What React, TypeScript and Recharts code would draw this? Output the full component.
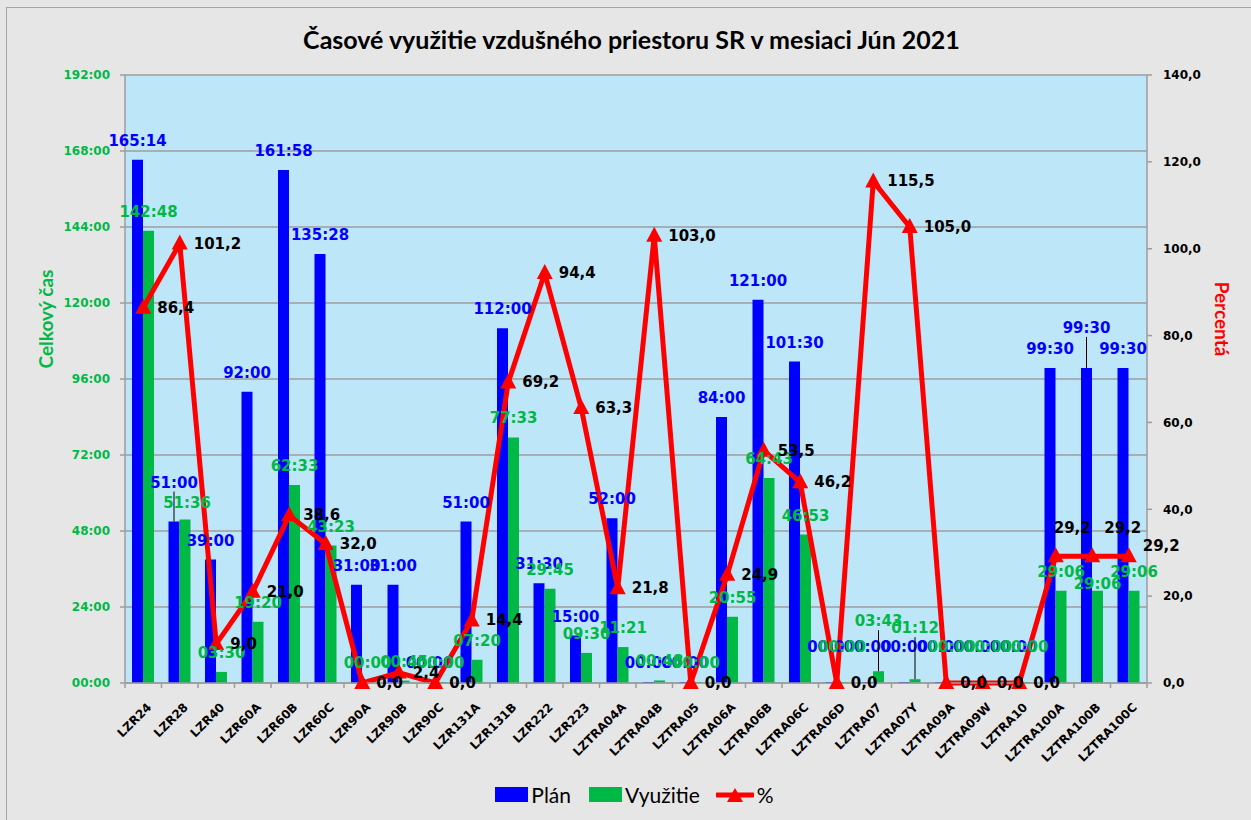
import React from 'react';
import {
  ComposedChart,
  Bar,
  Line,
  XAxis,
  YAxis,
  CartesianGrid,
  LabelList,
} from 'recharts';

const categories = [
  'LZR24', 'LZR28', 'LZR40', 'LZR60A', 'LZR60B', 'LZR60C', 'LZR90A', 'LZR90B', 'LZR90C',
  'LZR131A', 'LZR131B', 'LZR222', 'LZR223', 'LZTRA04A', 'LZTRA04B', 'LZTRA05', 'LZTRA06A',
  'LZTRA06B', 'LZTRA06C', 'LZTRA06D', 'LZTRA07', 'LZTRA07Y', 'LZTRA09A', 'LZTRA09W',
  'LZTRA10', 'LZTRA100A', 'LZTRA100B', 'LZTRA100C',
];

// hh:mm
const planTimes = [
  '165:14', '51:00', '39:00', '92:00', '161:58', '135:28', '31:00', '31:00', '00:00',
  '51:00', '112:00', '31:30', '15:00', '52:00', '00:00', '00:00', '84:00',
  '121:00', '101:30', '00:00', '00:00', '00:00', '00:00', '00:00',
  '00:00', '99:30', '99:30', '99:30',
];

const usedTimes = [
  '142:48', '51:36', '03:30', '19:20', '62:33', '43:23', '00:00', '00:45', '00:00',
  '07:20', '77:33', '29:45', '09:30', '11:21', '00:48', '00:00', '20:55',
  '64:43', '46:53', '00:00', '03:43', '01:12', '00:00', '00:00',
  '00:00', '29:06', '29:06', '29:06',
];

const percent = [
  86.4, 101.2, 9.0, 21.0, 38.6, 32.0, 0.0, 2.4, 0.0,
  14.4, 69.2, 94.4, 63.3, 21.8, 103.0, 0.0, 24.9,
  53.5, 46.2, 0.0, 115.5, 105.0, 0.0, 0.0,
  0.0, 29.2, 29.2, 29.2,
];

const hourTicks = [0, 24, 48, 72, 96, 120, 144, 168, 192];
const pctTicks = [0, 20, 40, 60, 80, 100, 120, 140];

const toHours = (s: string) => {
  const [h, m] = s.split(':').map(Number);
  return h + m / 60;
};

const data = categories.map((name, i) => ({
  name,
  plan: toHours(planTimes[i]),
  planLabel: planTimes[i],
  used: toHours(usedTimes[i]),
  usedLabel: usedTimes[i],
  pct: percent[i],
}));

const W = 1251;
const H = 820;
const LEFT = 125;
const RIGHT = 1147;
const TOP = 75;
const BOTTOM = 683;
const STEP = (RIGHT - LEFT) / categories.length;

const BLUE = '#0000FF';
const GREEN = '#00B846';
const RED = '#FF0000';
const AXIS = '#9d9d9d';
const LABEL_FONT = 'DejaVu Sans, Verdana, sans-serif';
const TEXT_FONT = 'Lato, Calibri, sans-serif';

// labels moved by hand in the original: index -> [dx, dy, leader line 1/0]
const planLabelShift: Record<number, number[]> = {
  1: [0, -20, 1], 19: [0, -16, 0], 20: [0, -16, 0], 21: [0, -16, 0],
  22: [0, -16, 0], 23: [0, -16, 0], 24: [0, -16, 0], 26: [0, -21, 1],
};
const usedLabelShift: Record<number, number[]> = {
  1: [2, 2, 0], 19: [0, -16, 0], 20: [0, -31, 1], 21: [0, -32, 1],
  22: [0, -16, 0], 23: [0, -16, 0], 24: [0, -16, 0], 26: [0, 12, 0],
};
const pctLabelShift: Record<number, number[]> = { 25: [-16, -28], 26: [-2, -28], 27: [0, -10] };

const fmtHour = (v: number) => `${String(v).padStart(2, '0')}:00`;
const fmtPct = (v: number) => v.toFixed(1).replace('.', ',');

const barLabel = (color: string, shift: Record<number, number[]>) => (p: any) => {
  const { x, y, width, value, index } = p;
  if (x == null || y == null) return null;
  const [dx, dy, leader] = shift[index] || [0, 0, 0];
  const cx = x + width / 2 + dx;
  const by = y - 14 + dy;
  return (
    <g key={`bl-${color}-${index}`}>
      {leader ? <line x1={cx} y1={by + 4} x2={cx} y2={y} stroke="#000" strokeWidth={1} /> : null}
      <text
        x={cx}
        y={by}
        textAnchor="middle"
        fill={color}
        fontFamily={LABEL_FONT}
        fontWeight="bold"
        fontSize={15}
      >
        {value}
      </text>
    </g>
  );
};

const pctLabel = (p: any) => {
  const { x, y, value, index } = p;
  if (x == null || y == null) return null;
  const [dx, dy] = pctLabelShift[index] || [0, 0];
  return (
    <text
      key={`pl-${index}`}
      x={x + 14 + dx}
      y={y + dy}
      dy={5}
      textAnchor="start"
      fill="#000"
      fontFamily={LABEL_FONT}
      fontWeight="bold"
      fontSize={15}
    >
      {fmtPct(Number(value))}
    </text>
  );
};

const XTick = (props: any) => {
  const { x, y, payload, index } = props;
  const lx = x - STEP / 2;
  return (
    <g>
      <line x1={lx} y1={BOTTOM} x2={lx} y2={BOTTOM + 5} stroke={AXIS} strokeWidth={1.5} />
      {index === categories.length - 1 && (
        <line x1={x + STEP / 2} y1={BOTTOM} x2={x + STEP / 2} y2={BOTTOM + 5} stroke={AXIS} strokeWidth={1.5} />
      )}
      <text
        x={x + 9}
        y={y + 25}
        transform={`rotate(-45, ${x + 9}, ${y + 25})`}
        textAnchor="end"
        fontFamily={LABEL_FONT}
        fontWeight="bold"
        fontSize={12}
        fill="#000"
      >
        {payload.value}
      </text>
    </g>
  );
};

const Triangle = (props: any) => {
  const { cx, cy, index } = props;
  if (cx == null || cy == null) return <g key={`t-${index}`} />;
  return (
    <polygon
      key={`t-${index}`}
      points={`${cx},${cy - 9} ${cx - 8},${cy + 6} ${cx + 8},${cy + 6}`}
      fill={RED}
    />
  );
};

const Legend = () => (
  <div
    style={{
      position: 'absolute',
      top: 782,
      left: 0,
      width: W,
      display: 'flex',
      justifyContent: 'center',
      alignItems: 'center',
      fontFamily: TEXT_FONT,
      fontSize: 21,
      color: '#000',
      paddingLeft: 18,
      boxSizing: 'border-box',
    }}
  >
    <span style={{ display: 'inline-block', width: 33, height: 15, background: BLUE, marginRight: 3 }} />
    <span style={{ marginRight: 18 }}>Plán</span>
    <span style={{ display: 'inline-block', width: 33, height: 15, background: GREEN, marginRight: 3 }} />
    <span style={{ marginRight: 16 }}>Využitie</span>
    <svg width={38} height={16} style={{ marginRight: 3 }}>
      <line x1={1} y1={8} x2={37} y2={8} stroke={RED} strokeWidth={5} strokeLinecap="round" />
      <polygon points="19,1 11,15 27,15" fill={RED} />
    </svg>
    <span>%</span>
  </div>
);

export default function App() {
  return (
    <div style={{ position: 'relative', width: W, height: H, background: '#e6e6e6', overflow: 'hidden' }}>
      <style>{'body{margin:0}'}</style>
      <div
        style={{
          position: 'absolute',
          left: 6,
          top: 7,
          width: W,
          height: H,
          border: '1.5px solid #a6a6a6',
        }}
      />
      <div
        style={{
          position: 'absolute',
          top: 24,
          left: 0,
          width: W + 12,
          textAlign: 'center',
          fontFamily: TEXT_FONT,
          fontWeight: 'bold',
          fontSize: 25,
          color: '#000',
        }}
      >
        Časové využitie vzdušného priestoru SR v mesiaci Jún 2021
      </div>
      <div style={{ position: 'absolute', left: 0, top: 0 }}>
        <ComposedChart
          width={W}
          height={H}
          data={data}
          margin={{ top: TOP, right: 0, bottom: 0, left: 0 }}
          barGap={0}
        >
          <CartesianGrid
            yAxisId="left"
            vertical={false}
            stroke={AXIS}
            strokeWidth={1.5}
            fill="#BEE6F9"
            fillOpacity={1}
          />
          <XAxis
            dataKey="name"
            height={H - BOTTOM}
            interval={0}
            tickLine={false}
            tickSize={0}
            tickMargin={0}
            tick={<XTick />}
            axisLine={{ stroke: AXIS, strokeWidth: 1.5 }}
          />
          <YAxis
            yAxisId="left"
            width={LEFT}
            domain={[0, 192]}
            ticks={hourTicks}
            tickFormatter={fmtHour}
            tickSize={5}
            tickMargin={10}
            axisLine={{ stroke: AXIS, strokeWidth: 1.5 }}
            tickLine={{ stroke: AXIS, strokeWidth: 1.5 }}
            tick={{ fill: GREEN, fontFamily: LABEL_FONT, fontWeight: 'bold', fontSize: 12 }}
            label={{
              content: (p: any) => {
                const vb = p.viewBox;
                const cx = vb.x + 45;
                const cy = vb.y + vb.height / 2 - 60;
                return (
                  <text
                    x={cx}
                    y={cy}
                    transform={`rotate(-90, ${cx}, ${cy})`}
                    textAnchor="middle"
                    dominantBaseline="central"
                    fontFamily={TEXT_FONT}
                    fontWeight="bold"
                    fontSize={19}
                    fill={GREEN}
                  >
                    Celkový čas
                  </text>
                );
              },
            }}
          />
          <YAxis
            yAxisId="right"
            orientation="right"
            width={W - RIGHT}
            domain={[0, 140]}
            ticks={pctTicks}
            tickFormatter={fmtPct}
            tickSize={5}
            tickMargin={11}
            axisLine={{ stroke: AXIS, strokeWidth: 1.5 }}
            tickLine={{ stroke: AXIS, strokeWidth: 1.5 }}
            tick={{ fill: '#000', fontFamily: LABEL_FONT, fontWeight: 'bold', fontSize: 12 }}
            label={{
              content: (p: any) => {
                const vb = p.viewBox;
                const cx = vb.x + 75;
                const cy = vb.y + vb.height / 2 - 60;
                return (
                  <text
                    x={cx}
                    y={cy}
                    transform={`rotate(90, ${cx}, ${cy})`}
                    textAnchor="middle"
                    dominantBaseline="central"
                    fontFamily={TEXT_FONT}
                    fontWeight="bold"
                    fontSize={19}
                    fill={RED}
                  >
                    Percentá
                  </text>
                );
              },
            }}
          />
          <Bar yAxisId="left" dataKey="plan" fill={BLUE} barSize={11} minPointSize={1} isAnimationActive={false}>
            <LabelList dataKey="planLabel" content={barLabel(BLUE, planLabelShift)} />
          </Bar>
          <Bar yAxisId="left" dataKey="used" fill={GREEN} barSize={11} minPointSize={1} isAnimationActive={false}>
            <LabelList dataKey="usedLabel" content={barLabel(GREEN, usedLabelShift)} />
          </Bar>
          <Line
            yAxisId="right"
            dataKey="pct"
            stroke={RED}
            strokeWidth={5}
            strokeLinejoin="round"
            dot={Triangle}
            activeDot={false}
            isAnimationActive={false}
          >
            <LabelList dataKey="pct" content={pctLabel} />
          </Line>
        </ComposedChart>
      </div>
      <Legend />
    </div>
  );
}
